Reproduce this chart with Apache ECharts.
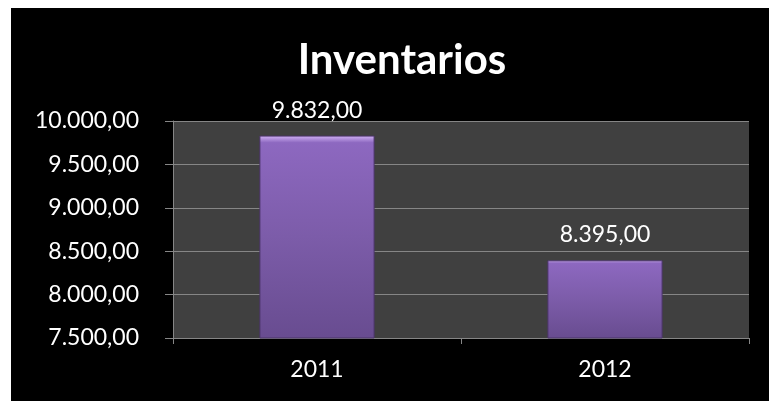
<!DOCTYPE html>
<html>
<head>
<meta charset="utf-8">
<script src="https://cdn.jsdelivr.net/npm/echarts@6/dist/echarts.min.js"></script>
<style>
html,body{margin:0;padding:0;background:#fff;}
#c{width:769px;height:401px;}
</style>
</head>
<body>
<div id="c"></div>
<script>
var categories = ['2011', '2012'];
var inventarios = [9832, 8395];
var yTicks = { min: 7500, max: 10000, interval: 500 };

function fmt(v) {
  var parts = Number(v).toFixed(2).split('.');
  var intPart = parts[0].replace(/\B(?=(\d{3})+(?!\d))/g, '.');
  return intPart + ',' + parts[1];
}

var chart = echarts.init(document.getElementById('c'), null, { renderer: 'canvas' });
chart.setOption({
  backgroundColor: '#ffffff',
  animation: false,
  graphic: [{
    type: 'rect', z: -10, silent: true,
    shape: { x: 11, y: 8, width: 758, height: 393 },
    style: { fill: '#000000' }
  }],
  title: {
    text: 'Inventarios',
    left: 397, top: 34, textAlign: 'center',
    textStyle: { color: '#ffffff', fontFamily: 'Lato', fontWeight: 'bold', fontSize: 42 }
  },
  grid: {
    left: 173, top: 121, right: 20, bottom: 63,
    show: true, backgroundColor: '#404040', borderWidth: 0
  },
  xAxis: {
    type: 'category',
    data: categories,
    axisLine: { show: true, lineStyle: { color: '#868686', width: 1 } },
    axisTick: { show: true, length: 6, lineStyle: { color: '#868686' } },
    axisLabel: { color: '#ffffff', fontFamily: 'Lato', fontSize: 23, margin: 20 },
    splitLine: { show: false }
  },
  yAxis: {
    type: 'value',
    min: yTicks.min, max: yTicks.max, interval: yTicks.interval,
    axisLine: { show: true, lineStyle: { color: '#868686', width: 1 } },
    axisTick: { show: true, length: 8, lineStyle: { color: '#868686' } },
    axisLabel: { color: '#ffffff', fontFamily: 'Lato', fontSize: 23, margin: 34, formatter: fmt },
    splitLine: { show: true, lineStyle: { color: '#868686', width: 1 } }
  },
  series: [{
    type: 'bar',
    data: inventarios,
    barWidth: '40%',
    itemStyle: {
      color: new echarts.graphic.LinearGradient(0, 0, 0, 1, [
        { offset: 0, color: '#d3b4f7' },
        { offset: 0.035, color: '#8d68c0' },
        { offset: 0.5, color: '#7c5ca9' },
        { offset: 1, color: '#684c90' }
      ]),
      borderColor: '#4a3468',
      borderWidth: 1
    },
    label: {
      show: true, position: 'top', distance: 14,
      color: '#ffffff', fontFamily: 'Lato', fontSize: 23,
      formatter: function (p) { return fmt(p.value); }
    }
  }]
});
</script>
</body>
</html>
